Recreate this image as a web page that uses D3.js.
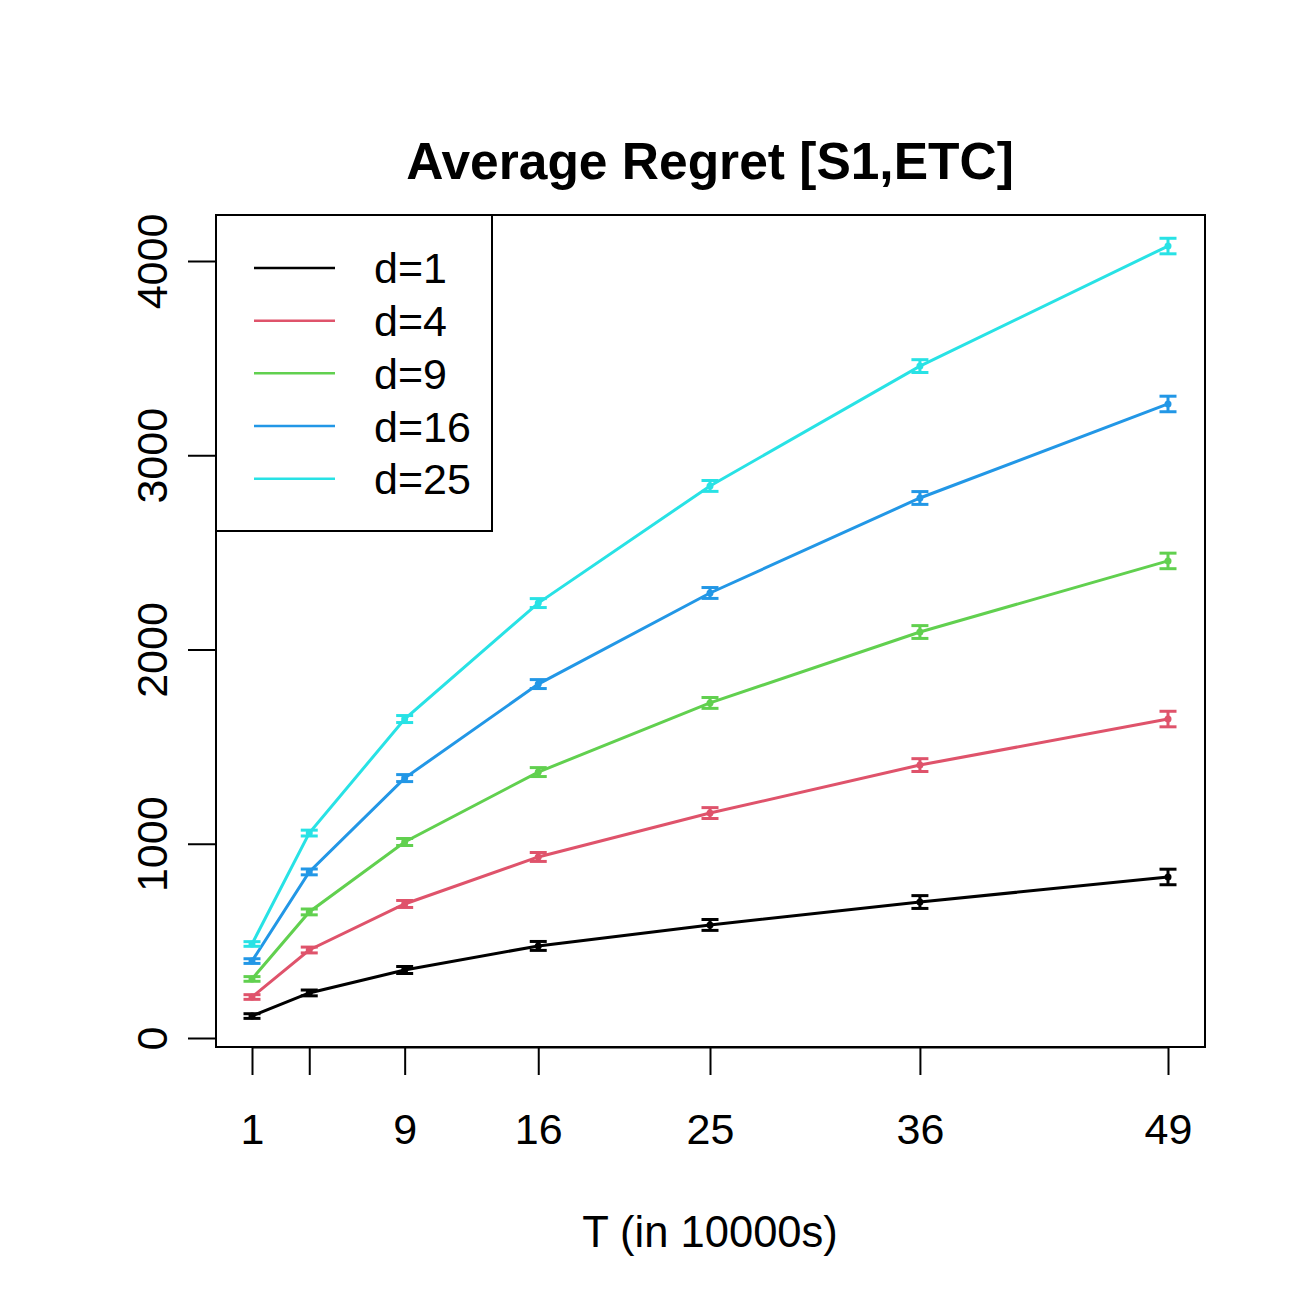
<!DOCTYPE html>
<html>
<head>
<meta charset="utf-8">
<script src="https://cdn.jsdelivr.net/npm/d3@7"></script>
<style>
  body { margin: 0; background: #fff; }
  text { font-family: "Liberation Sans", Arial, sans-serif; }
</style>
</head>
<body>
<div class="graphics"></div>
<script>
// T values (in 10000s)
const tVals = [1, 4, 9, 16, 25, 36, 49];
const xTickLabels = ["1", "", "9", "16", "25", "36", "49"];
const yTicks = [0, 1000, 2000, 3000, 4000];

const seriesNames = ["d=1", "d=4", "d=9", "d=16", "d=25"];
const seriesColors = ["#000000", "#DF536B", "#61D04F", "#2297E6", "#28E2E5"];

const regretD1  = [113, 232, 350, 474, 582, 700, 829];
const regretD4  = [211, 453, 690, 932, 1158, 1405, 1642];
const regretD9  = [304, 649, 1009, 1369, 1725, 2090, 2456];
const regretD16 = [396, 855, 1338, 1822, 2291, 2780, 3264];
const regretD25 = [484, 1055, 1642, 2239, 2842, 3459, 4077];
const errHalf   = [12, 15, 18, 23, 28, 33, 40];

const allSeries = [regretD1, regretD4, regretD9, regretD16, regretD25];

const width = 1316, height = 1316;
const box = { left: 216, right: 1205, top: 215, bottom: 1047 };

const svg = d3.select('.graphics')
  .append('svg')
  .attr('width', width)
  .attr('height', height);

const x = d3.scaleLinear().domain([1, 49]).range([252, 1168]);
const y = d3.scaleLinear().domain([0, 4000]).range([1038, 261]);

// plot box
svg.append('rect')
  .attr('x', box.left).attr('y', box.top)
  .attr('width', box.right - box.left).attr('height', box.bottom - box.top)
  .attr('fill', 'none').attr('stroke', '#000').attr('stroke-width', 2);

// x axis
const xAxis = svg.append('g').attr('transform', `translate(0,${box.bottom})`)
  .call(d3.axisBottom(x).tickValues(tVals).tickFormat((d, i) => xTickLabels[i])
    .tickSizeInner(28).tickSizeOuter(0).tickPadding(38));
xAxis.select('.domain').attr('stroke-width', 2);
xAxis.selectAll('.tick line').attr('stroke-width', 2);
xAxis.selectAll('.tick text').attr('font-size', 43).attr('fill', '#000')
  .attr('font-family', '"Liberation Sans", Arial, sans-serif');

// y axis
const yAxis = svg.append('g').attr('transform', `translate(${box.left},0)`)
  .call(d3.axisLeft(y).tickValues(yTicks).tickFormat(d3.format('d'))
    .tickSizeInner(28).tickSizeOuter(0).tickPadding(0));
yAxis.select('.domain').remove();
yAxis.selectAll('.tick line').attr('stroke-width', 2);
yAxis.selectAll('.tick text').remove();
yAxis.selectAll('.tick').append('text')
  .attr('transform', 'translate(-64,0) rotate(-90)')
  .attr('text-anchor', 'middle')
  .attr('dy', '0.35em')
  .attr('font-size', 43)
  .attr('fill', '#000')
  .text(d => d);

// title and axis label
svg.append('text').attr('x', 710).attr('y', 179)
  .attr('text-anchor', 'middle').attr('font-size', 51.5).attr('font-weight', 'bold')
  .text('Average Regret [S1,ETC]');
svg.append('text').attr('x', 710).attr('y', 1247)
  .attr('text-anchor', 'middle').attr('font-size', 43.5)
  .text('T (in 10000s)');

// series
const line = d3.line().x((d, i) => x(tVals[i])).y(d => y(d));
const capW = 8.5;

allSeries.forEach((vals, s) => {
  const col = seriesColors[s];
  const g = svg.append('g');
  g.append('path').datum(vals)
    .attr('d', line).attr('fill', 'none').attr('stroke', col).attr('stroke-width', 3);

  const eb = g.selectAll('.eb').data(vals).join('g');
  eb.append('line')
    .attr('x1', (d, i) => x(tVals[i])).attr('x2', (d, i) => x(tVals[i]))
    .attr('y1', (d, i) => y(d - errHalf[i])).attr('y2', (d, i) => y(d + errHalf[i]))
    .attr('stroke', col).attr('stroke-width', 3);
  [-1, 1].forEach(sg => {
    eb.append('line')
      .attr('x1', (d, i) => x(tVals[i]) - capW).attr('x2', (d, i) => x(tVals[i]) + capW)
      .attr('y1', (d, i) => y(d + sg * errHalf[i])).attr('y2', (d, i) => y(d + sg * errHalf[i]))
      .attr('stroke', col).attr('stroke-width', 3);
  });
  eb.append('circle')
    .attr('cx', (d, i) => x(tVals[i])).attr('cy', d => y(d))
    .attr('r', 3.5).attr('fill', col);
});

// legend
const legend = svg.append('g');
legend.append('rect')
  .attr('x', box.left).attr('y', box.top)
  .attr('width', 492 - box.left).attr('height', 531 - box.top)
  .attr('fill', '#fff').attr('stroke', '#000').attr('stroke-width', 2);
const ly = d3.scaleLinear().domain([0, 4]).range([268, 478.7]);
seriesNames.forEach((name, i) => {
  legend.append('line')
    .attr('x1', 254).attr('x2', 335).attr('y1', ly(i)).attr('y2', ly(i))
    .attr('stroke', seriesColors[i]).attr('stroke-width', 2.5);
  legend.append('text')
    .attr('x', 374).attr('y', ly(i)).attr('dy', '0.36em')
    .attr('font-size', 43).text(name);
});
</script>
</body>
</html>
